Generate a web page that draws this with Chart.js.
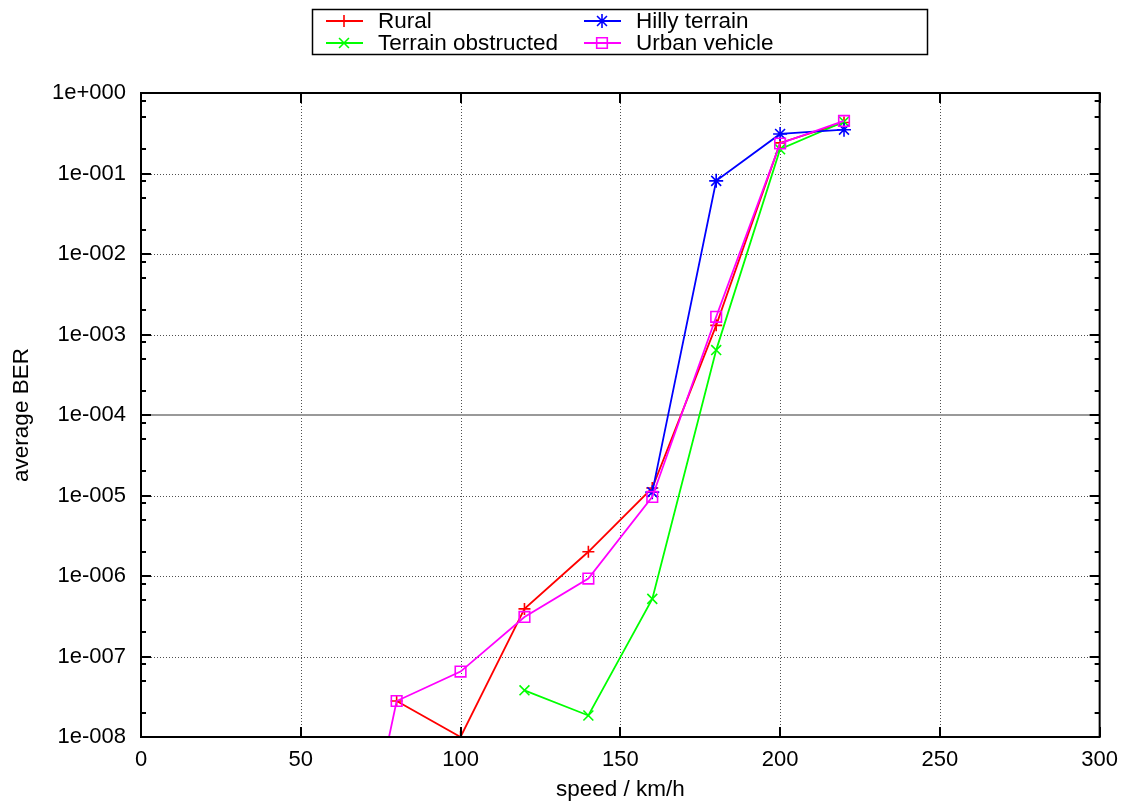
<!DOCTYPE html>
<html>
<head>
<meta charset="utf-8">
<title>average BER vs speed</title>
<script src="https://cdn.jsdelivr.net/npm/chart.js@4/dist/chart.umd.min.js"></script>
<style>
  html, body { margin: 0; padding: 0; background: #fff; }
  #wrap { width: 1128px; height: 807px; }
</style>
</head>
<body>
<div id="wrap"><canvas id="berChart" width="1128" height="807"></canvas></div>
<script>
// --- data ---
const ruralX = [80, 100, 120, 140, 160, 180, 200, 220];
const ruralBER = [2.8e-8, 1.0e-8, 3.9e-7, 2.0e-6, 1.24e-5, 1.3e-3, 0.24, 0.43];

const terrainX = [120, 140, 160, 180, 200, 220];
const terrainBER = [3.8e-8, 1.85e-8, 5.2e-7, 6.4e-4, 0.2, 0.44];

const hillyX = [160, 180, 200, 220];
const hillyBER = [1.1e-5, 0.081, 0.31, 0.35];

const urbanX = [60, 80, 100, 120, 140, 160, 180, 200, 220];
const urbanBER = [5e-12, 2.8e-8, 6.5e-8, 3.1e-7, 9.3e-7, 9.6e-6, 1.66e-3, 0.236, 0.45];

const thresholdX = [0, 300];
const thresholdBER = [1e-4, 1e-4];

const xTicks = [0, 50, 100, 150, 200, 250, 300];
const yTicks = [1e-8, 1e-7, 1e-6, 1e-5, 1e-4, 1e-3, 1e-2, 1e-1, 1];
const yMinorFactors = [2, 5, 8];

const FONT = '"Liberation Sans", Arial, Helvetica, sans-serif';

function toPoints(xs, ys) {
    return xs.map((x, i) => ({ x: x, y: ys[i] }));
}

// gnuplot-style "1e-004" labels
function expLabel(v) {
    const e = Math.round(Math.log10(v));
    return '1e' + (e < 0 ? '-' : '+') + String(Math.abs(e)).padStart(3, '0');
}

function series(label, xs, ys, color, style, radius, order) {
    return {
        label: label,
        data: toPoints(xs, ys),
        borderColor: color,
        backgroundColor: 'rgba(0,0,0,0)',
        borderWidth: 1.8,
        pointStyle: style,
        pointRadius: radius,
        pointBorderWidth: 1.6,
        pointBorderColor: color,
        pointBackgroundColor: 'rgba(0,0,0,0)',
        showLine: true,
        order: order
    };
}

const datasets = [
    series('Rural', ruralX, ruralBER, '#ff0000', 'cross', 6, 3),
    series('Terrain obstructed', terrainX, terrainBER, '#00ff00', 'crossRot', 7, 2),
    series('Hilly terrain', hillyX, hillyBER, '#0000ff', 'star', 7, 1),
    series('Urban vehicle', urbanX, urbanBER, '#ff00ff', 'rect', 7.5, 0),
    {
        label: 'threshold',
        data: toPoints(thresholdX, thresholdBER),
        borderColor: '#999999',
        borderWidth: 2,
        pointRadius: 0,
        showLine: true,
        order: 5
    }
];

// grid, frame, inward ticks and the boxed two-column legend
const framePlugin = {
    id: 'frame',
    beforeDatasetsDraw(chart) {
        const { ctx, chartArea: a, scales: { x, y } } = chart;
        ctx.save();
        ctx.strokeStyle = '#505050';
        ctx.lineWidth = 1;
        ctx.setLineDash([1, 2]);
        ctx.beginPath();
        xTicks.slice(1, -1).forEach(v => {
            const px = Math.round(x.getPixelForValue(v)) + 0.5;
            ctx.moveTo(px, a.top + 10);
            ctx.lineTo(px, a.bottom - 10);
        });
        yTicks.slice(1, -1).forEach(v => {
            const py = Math.round(y.getPixelForValue(v)) + 0.5;
            ctx.moveTo(a.left + 10, py);
            ctx.lineTo(a.right - 10, py);
        });
        ctx.stroke();
        ctx.restore();
    },
    afterDatasetsDraw(chart) {
        const { ctx, chartArea: a, scales: { x, y } } = chart;
        ctx.save();
        ctx.strokeStyle = '#000';
        ctx.lineWidth = 2;
        ctx.beginPath();
        // major ticks, all four sides
        xTicks.forEach(v => {
            const px = Math.round(x.getPixelForValue(v));
            ctx.moveTo(px, a.bottom); ctx.lineTo(px, a.bottom - 10);
            ctx.moveTo(px, a.top); ctx.lineTo(px, a.top + 10);
        });
        yTicks.forEach(v => {
            const py = Math.round(y.getPixelForValue(v));
            ctx.moveTo(a.left, py); ctx.lineTo(a.left + 10, py);
            ctx.moveTo(a.right, py); ctx.lineTo(a.right - 10, py);
        });
        // minor ticks on the log axis
        yTicks.slice(0, -1).forEach(v => {
            yMinorFactors.forEach(f => {
                const py = Math.round(y.getPixelForValue(v * f));
                ctx.moveTo(a.left, py); ctx.lineTo(a.left + 5, py);
                ctx.moveTo(a.right, py); ctx.lineTo(a.right - 5, py);
            });
        });
        ctx.stroke();
        ctx.strokeRect(a.left, a.top, a.right - a.left, a.bottom - a.top);
        ctx.restore();
    },
    afterDraw(chart) {
        const ctx = chart.ctx;
        ctx.save();
        ctx.strokeStyle = '#000';
        ctx.lineWidth = 1.5;
        ctx.strokeRect(312.5, 9.5, 615, 45);

        const slots = [[0, 0], [0, 1], [1, 0], [1, 1]];
        chart.data.datasets.slice(0, 4).forEach((ds, i) => {
            const x0 = 326 + slots[i][0] * 258;
            const yc = 21 + slots[i][1] * 22;
            ctx.strokeStyle = ds.borderColor;
            ctx.lineWidth = 1.8;
            ctx.beginPath();
            ctx.moveTo(x0, yc);
            ctx.lineTo(x0 + 37, yc);
            ctx.stroke();
            ctx.fillStyle = 'rgba(0,0,0,0)';
            ctx.lineWidth = 1.6;
            Chart.helpers.drawPoint(ctx, {
                pointStyle: ds.pointStyle,
                radius: ds.pointRadius,
                borderWidth: 1.6,
                rotation: 0
            }, x0 + 18, yc);
            ctx.font = '22.5px ' + FONT;
            ctx.textBaseline = 'middle';
            ctx.fillStyle = '#000';
            ctx.fillText(ds.label, x0 + 52, yc + 1);
        });
        ctx.restore();
    }
};

new Chart(document.getElementById('berChart'), {
    type: 'scatter',
    data: { datasets: datasets },
    plugins: [framePlugin],
    options: {
        responsive: false,
        animation: false,
        layout: { padding: { top: 93, right: 28, left: 0, bottom: 0 } },
        plugins: {
            legend: { display: false },
            tooltip: { enabled: false }
        },
        scales: {
            x: {
                type: 'linear',
                min: 0,
                max: 300,
                afterFit: s => { s.height = 70; },
                afterBuildTicks: s => { s.ticks = xTicks.map(v => ({ value: v })); },
                grid: { display: false, drawTicks: false },
                border: { display: false },
                ticks: {
                    padding: 10,
                    color: '#000',
                    font: { family: FONT, size: 22 }
                },
                title: {
                    display: true,
                    text: 'speed / km/h',
                    color: '#000',
                    font: { family: FONT, size: 22.5 },
                    padding: { top: 0, bottom: 4 }
                }
            },
            y: {
                type: 'logarithmic',
                min: 1e-8,
                max: 1,
                afterFit: s => { s.width = 141; },
                afterBuildTicks: s => { s.ticks = yTicks.map(v => ({ value: v })); },
                grid: { display: false, drawTicks: false },
                border: { display: false },
                ticks: {
                    padding: 15,
                    color: '#000',
                    font: { family: FONT, size: 22 },
                    callback: v => expLabel(v)
                },
                title: {
                    display: true,
                    text: 'average BER',
                    color: '#000',
                    font: { family: FONT, size: 22.5 },
                    padding: { top: 8, bottom: 0 }
                }
            }
        }
    }
});
</script>
</body>
</html>
